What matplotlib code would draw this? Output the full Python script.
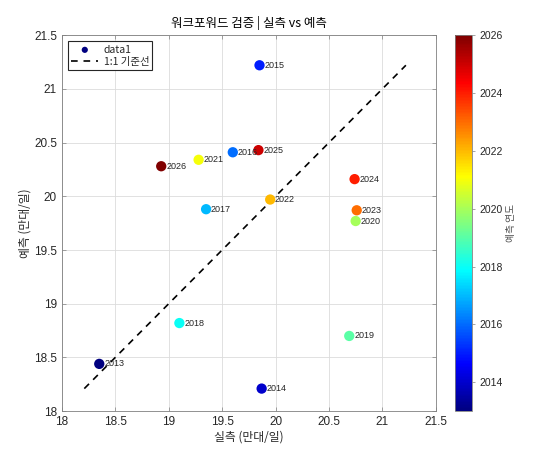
import numpy as np
import matplotlib
matplotlib.use("Agg")
import matplotlib.pyplot as plt
from matplotlib.colors import LinearSegmentedColormap

plt.rcParams['font.family'] = ['Noto Sans CJK KR', 'DejaVu Sans']

# ── Data ───────────────────────────────────────────────────────────────────────
years     = [2013, 2014, 2015, 2016, 2017, 2018, 2019, 2020, 2021, 2022, 2023, 2024, 2025, 2026]
actual    = [18.35, 19.87, 19.85, 19.60, 19.35, 19.10, 20.69, 20.75, 19.28, 19.95, 20.76, 20.74, 19.84, 18.93]
predicted = [18.44, 18.21, 21.22, 20.41, 19.88, 18.82, 18.70, 19.77, 20.34, 19.97, 19.87, 20.16, 20.43, 20.28]

TITLE  = "워크포워드 검증 | 실측 vs 예측"
XLABEL = "실측 (만대/일)"
YLABEL = "예측 (만대/일)"
CBLABEL = "예측 연도"

TXT = "#262626"

# MATLAB-style jet
mjet = LinearSegmentedColormap("mjet", {
    "red":   [(0, 0, 0), (0.375, 0, 0), (0.625, 1, 1), (0.875, 1, 1), (1, 0.5, 0.5)],
    "green": [(0, 0, 0), (0.125, 0, 0), (0.375, 1, 1), (0.625, 1, 1), (0.875, 0, 0), (1, 0, 0)],
    "blue":  [(0, 0.5, 0.5), (0.125, 1, 1), (0.375, 1, 1), (0.625, 0, 0), (1, 0, 0)],
}, N=256)

# ── Plot ───────────────────────────────────────────────────────────────────────
fig = plt.figure(figsize=(5.38, 4.63), dpi=100)
fig.patch.set_facecolor("white")
ax = fig.add_axes([0.115, 0.112, 0.695, 0.812])
cax = fig.add_axes([0.846, 0.112, 0.031, 0.812])

sc = ax.scatter(actual, predicted, c=years, cmap=mjet, vmin=2013, vmax=2026,
                s=55, edgecolors="none", zorder=4, label="data1")

lo = min(min(actual), min(predicted))
hi = max(max(actual), max(predicted))
ax.plot([lo, hi], [lo, hi], "--", color="black", lw=1.2, dashes=(4, 3.5),
        zorder=3, label="1:1 기준선")

for x, y, yr in zip(actual, predicted, years):
    ax.annotate(str(yr), (x, y), xytext=(3.5, 0), textcoords="offset points",
                fontsize=6.5, color=TXT, va="center", ha="left", zorder=5,
                family=["Liberation Sans", "DejaVu Sans"])

ticks = np.arange(18, 21.51, 0.5)
ax.set_xlim(18, 21.5)
ax.set_ylim(18, 21.5)
ax.set_xticks(ticks)
ax.set_yticks(ticks)
ax.set_xticklabels([f"{v:g}" for v in ticks])
ax.set_yticklabels([f"{v:g}" for v in ticks])
ax.grid(True, color="#dcdcdc", lw=0.6, zorder=0)
ax.set_axisbelow(True)
ax.tick_params(direction="in", length=3, width=0.5, labelsize=8.5,
               top=True, right=True, color="#808080", labelcolor=TXT)
for lab in ax.get_xticklabels() + ax.get_yticklabels():
    lab.set_family(["Liberation Sans", "DejaVu Sans"])
for sp in ax.spines.values():
    sp.set_color("#808080")
    sp.set_linewidth(0.6)

ax.set_xlabel(XLABEL, fontsize=8.5, color=TXT, labelpad=2)
ax.set_ylabel(YLABEL, fontsize=8.5, color=TXT, labelpad=2)
ax.set_title(TITLE, fontsize=9, color="black", pad=6)

leg = ax.legend(loc="upper left", fontsize=7.5, frameon=True, fancybox=False,
                edgecolor="#262626", framealpha=1, borderpad=0.3,
                handlelength=2.6, handletextpad=0.5, borderaxespad=0.6,
                labelspacing=0.2, markerscale=0.6)
leg.get_frame().set_linewidth(0.8)
for t in leg.get_texts():
    t.set_color(TXT)

cb = fig.colorbar(sc, cax=cax)
cb.set_ticks(range(2014, 2027, 2))
cb.ax.tick_params(direction="out", length=2, width=0.5, labelsize=7.5,
                  color="#808080", labelcolor=TXT)
for lab in cb.ax.get_yticklabels():
    lab.set_family(["Liberation Sans", "DejaVu Sans"])
cb.outline.set_edgecolor("#808080")
cb.outline.set_linewidth(0.6)
cb.set_label(CBLABEL, fontsize=7, color="#505050", rotation=90, labelpad=2)

fig.savefig("out.png", dpi=100, facecolor="white")
